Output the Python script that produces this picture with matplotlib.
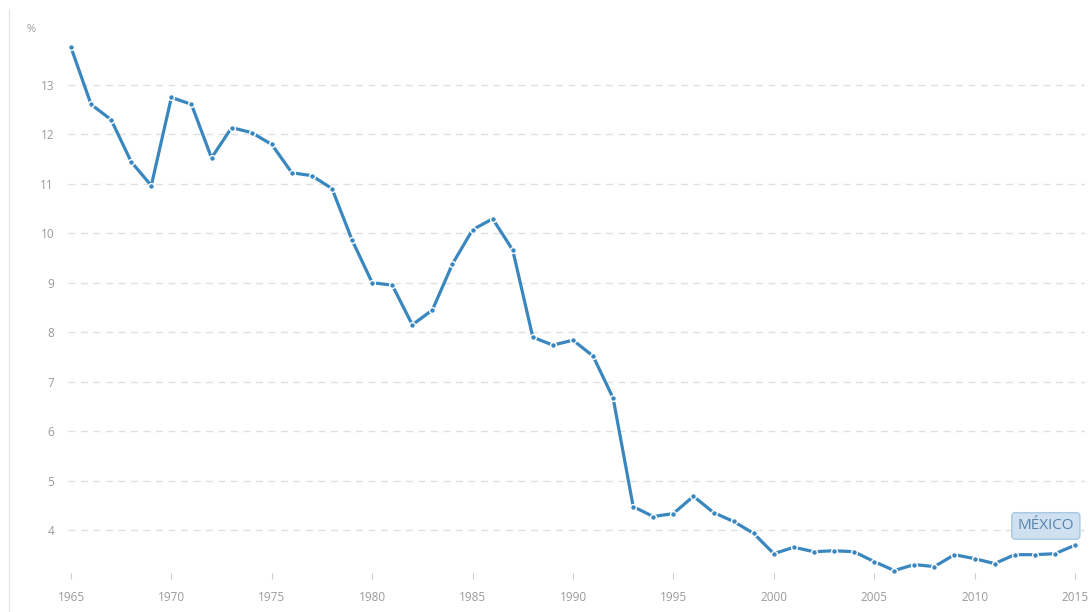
# Mexico series, 1965-2015

import matplotlib.pyplot as plt
import numpy as np

plt.rcParams['font.family'] = ['Open Sans', 'DejaVu Sans']

# Data
years = list(range(1965, 2016))
values = [13.75, 12.60, 12.29, 11.44, 10.96, 12.74, 12.60, 11.52, 12.13, 12.03,
          11.79, 11.22, 11.16, 10.90, 9.86, 9.00, 8.95, 8.15, 8.45, 9.38,
          10.07, 10.29, 9.66, 7.90, 7.74, 7.84, 7.52, 6.67, 4.48, 4.28,
          4.34, 4.69, 4.36, 4.18, 3.94, 3.53, 3.66, 3.57, 3.59, 3.57,
          3.37, 3.19, 3.31, 3.27, 3.51, 3.43, 3.33, 3.51, 3.51, 3.53,
          3.70]
yticks = [4, 5, 6, 7, 8, 9, 10, 11, 12, 13]
xticks = [1965, 1970, 1975, 1980, 1985, 1990, 1995, 2000, 2005, 2010, 2015]
series_name = 'MÉXICO'

line_color = '#3a87c0'
text_grey = '#9a9a9a'

fig = plt.figure(figsize=(10.91, 6.12), dpi=100)
ax = fig.add_axes([0.0623, 0.0637, 0.9322, 0.871])

ax.plot(years, values, color=line_color, lw=2.3, marker='o', ms=4.2,
        mfc=line_color, mec='white', mew=1.0, solid_capstyle='round', zorder=3)

ax.set_xlim(1964.85, 2015.5)
ax.set_ylim(3.14, 13.9)
ax.set_yticks(yticks)
ax.set_xticks(xticks)

ax.grid(axis='y', color='#e0e0e0', linestyle=(0, (5, 4)), lw=1.0)
for s in ax.spines.values():
    s.set_visible(False)

ax.tick_params(axis='y', length=0, pad=10, labelsize=8.5, labelcolor=text_grey)
ax.tick_params(axis='x', length=4, width=0.8, color='#cccccc', pad=9,
               labelsize=8.5, labelcolor=text_grey)

# thin light frame line on the left
fig.add_artist(plt.Line2D([0.0085, 0.0085], [0.0, 0.985], color='#e6e6e6', lw=1.0))

fig.text(0.0285, 0.952, '%', fontsize=8, color=text_grey, ha='center', va='center')

# series label at end of the line
ax.text(2013.55, 4.09, series_name, ha='center', va='center', fontsize=11,
        color='#5b82ab',
        bbox=dict(boxstyle='round,pad=0.38,rounding_size=0.25', fc='#cfe1f1',
                  ec='#a7c8e4', lw=1.0))

fig.savefig('out.png', dpi=100)
